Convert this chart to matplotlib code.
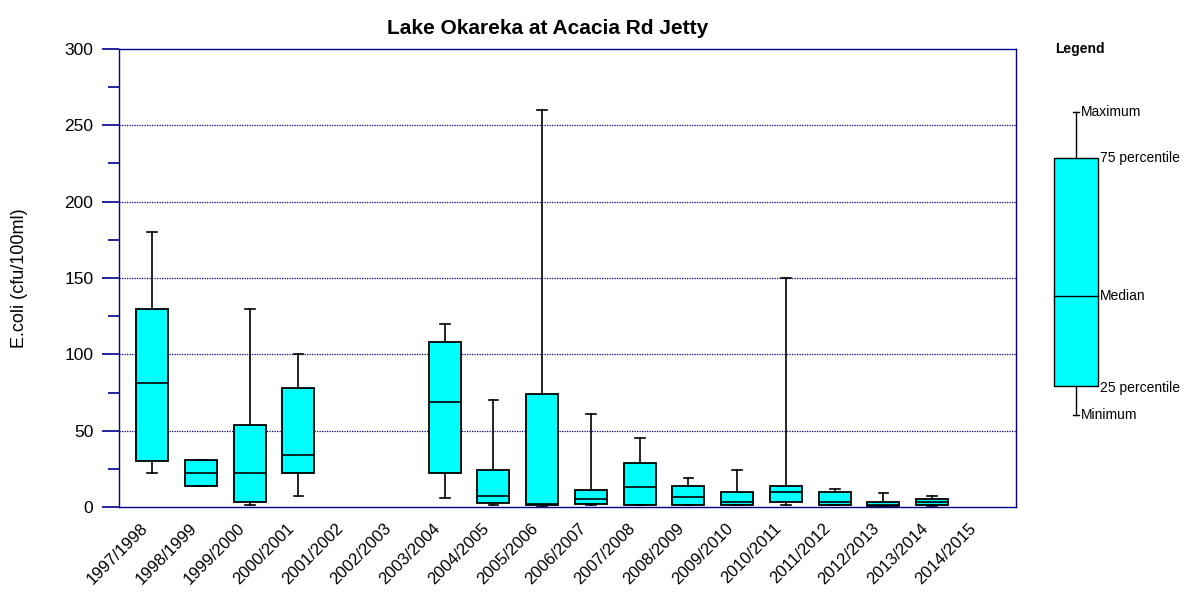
import matplotlib
matplotlib.use("Agg")
import matplotlib.pyplot as plt
from matplotlib.patches import Rectangle
from matplotlib.transforms import ScaledTranslation

plt.rcParams["font.family"] = ["Liberation Sans", "DejaVu Sans"]

# Seasonal E.coli summary statistics (cfu/100ml)
seasons = ["1997/1998", "1998/1999", "1999/2000", "2000/2001", "2001/2002",
           "2002/2003", "2003/2004", "2004/2005", "2005/2006", "2006/2007",
           "2007/2008", "2008/2009", "2009/2010", "2010/2011", "2011/2012",
           "2012/2013", "2013/2014", "2014/2015"]
minimum = [22, 14, 1, 7, None, None, 6, 1, 0, 1, 1, 1, 1, 1, 1, 0.5, 0.5, None]
q25 = [30, 14, 3, 22, None, None, 22, 2.5, 1, 2, 1, 1.5, 1.5, 3.5, 1, 0.5, 1, None]
median = [81, 22.5, 22, 34, None, None, 69, 7, 2, 5.5, 13, 6.5, 3.5, 9.5, 3, 1, 3, None]
q75 = [130, 31, 54, 78, None, None, 108, 24, 74, 11, 28.5, 14, 9.5, 14, 9.5, 3, 5, None]
maximum = [180, 31, 130, 100, None, None, 120, 70, 260, 61, 45, 19, 24, 150, 12, 9, 7, None]

yticks = [0, 50, 100, 150, 200, 250, 300]

NAVY = "#00008B"
CYAN = "#00FFFF"

W, H = 1192, 598
fig = plt.figure(figsize=(W / 100, H / 100), dpi=100)
ax = fig.add_axes([119 / W, 1 - 507 / H, (1016 - 119) / W, (507 - 49) / H])

stats, positions = [], []
for i, name in enumerate(seasons):
    if median[i] is None:
        continue
    stats.append(dict(label=name, whislo=minimum[i], q1=q25[i], med=median[i],
                      q3=q75[i], whishi=maximum[i], fliers=[]))
    positions.append(i)

ax.bxp(stats, positions=positions, widths=0.66, patch_artist=True,
       showfliers=False, manage_ticks=False,
       boxprops=dict(facecolor=CYAN, edgecolor="black", linewidth=1.3),
       medianprops=dict(color="black", linewidth=1.2),
       whiskerprops=dict(color="black", linewidth=1.2),
       capprops=dict(color="black", linewidth=1.2), capwidths=0.2)

ax.set_xlim(-0.68, 17.72)
ax.set_ylim(0, 300)
ax.set_xticks(range(len(seasons)))
ax.set_xticklabels(seasons, rotation=45, ha="right", rotation_mode="anchor",
                   fontsize=12)
ax.tick_params(axis="x", length=0, pad=10)
shift = ScaledTranslation(-12 / 100, 0, fig.dpi_scale_trans)
for lab in ax.get_xticklabels():
    lab.set_transform(lab.get_transform() + shift)
ax.set_yticks(yticks)
ax.set_yticks([25, 75, 125, 175, 225, 275], minor=True)
ax.tick_params(axis="y", which="major", length=12.5, width=1.2, color=NAVY,
               labelsize=12.5, pad=6)
ax.tick_params(axis="y", which="minor", length=8, width=1.2, color=NAVY)
for s in ax.spines.values():
    s.set_color(NAVY)
    s.set_linewidth(1.0)
for v in yticks[1:-1]:
    ax.axhline(v, color=NAVY, linestyle=(0, (1, 1)), linewidth=0.9, zorder=0)

ax.set_ylabel("E.coli (cfu/100ml)", fontsize=13, labelpad=26)
fig.text(548 / W, 1 - 28 / H, "Lake Okareka at Acacia Rd Jetty",
         ha="center", va="center", fontsize=15, fontweight="bold")

# Legend schematic drawn in figure pixel space
lg = fig.add_axes([0, 0, 1, 1], facecolor="none")
lg.set_xlim(0, W)
lg.set_ylim(H, 0)
lg.axis("off")
lg.text(1055, 49, "Legend", fontsize=10, fontweight="bold", va="center")
bx0, bx1, cx = 1054, 1098, 1076
ytop, ymed, ybot, ymax, ymin = 158, 296, 386, 112, 415
lg.add_patch(Rectangle((bx0, ytop), bx1 - bx0, ybot - ytop, facecolor=CYAN,
                       edgecolor="black", linewidth=1.0))
lg.plot([bx0, bx1], [ymed, ymed], color="black", linewidth=1.0)
lg.plot([cx, cx], [ymax, ytop], color="black", linewidth=1.0)
lg.plot([cx, cx], [ybot, ymin], color="black", linewidth=1.0)
lg.plot([cx - 3, cx + 3], [ymax, ymax], color="black", linewidth=1.0)
lg.plot([cx - 3, cx + 3], [ymin, ymin], color="black", linewidth=1.0)
lg.text(1081, ymax, "Maximum", fontsize=10, va="center")
lg.text(1100, ytop, "75 percentile", fontsize=10, va="center")
lg.text(1100, ymed, "Median", fontsize=10, va="center")
lg.text(1100, ybot + 2, "25 percentile", fontsize=10, va="center")
lg.text(1081, ymin, "Minimum", fontsize=10, va="center")

fig.savefig("out.png", dpi=100)
